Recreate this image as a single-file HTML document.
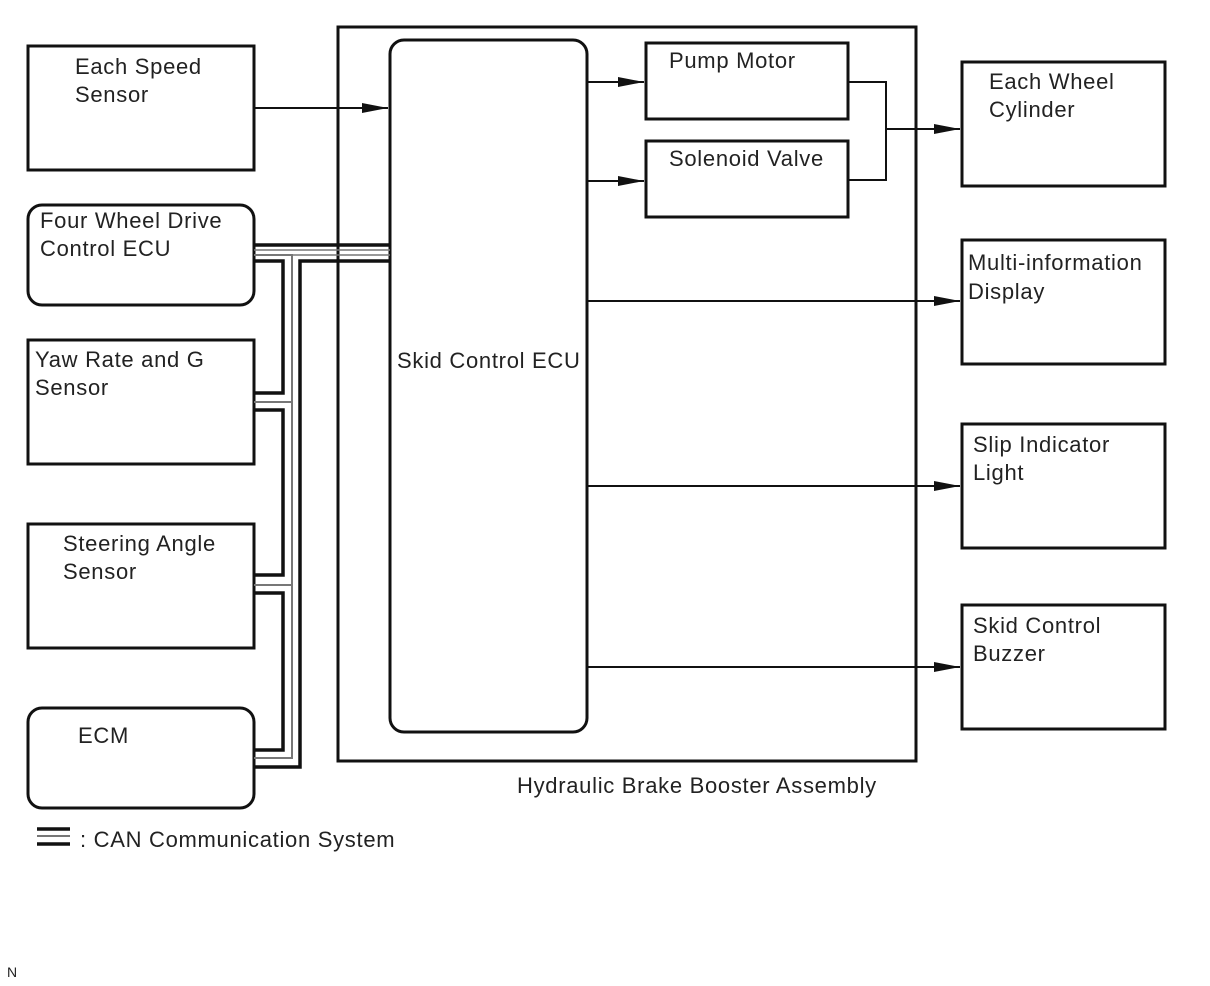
<!DOCTYPE html>
<html><head><meta charset="utf-8"><style>
html,body{margin:0;padding:0;background:#fff;}
svg{display:block;}
text{font-family:"Liberation Sans",sans-serif;font-size:22px;letter-spacing:0.7px;fill:#222;}
</style></head><body>
<svg width="1210" height="986" viewBox="0 0 1210 986" xmlns="http://www.w3.org/2000/svg">
<defs>
<marker id="a" markerWidth="26" markerHeight="12" refX="26" refY="6" orient="auto" markerUnits="userSpaceOnUse">
<path d="M0,1 L26,6 L0,11 Z" fill="#111"/>
</marker>
</defs>
<g fill="none" stroke="#111" stroke-width="3">
<rect x="28" y="46" width="226" height="124"/>
<rect x="28" y="205" width="226" height="100" rx="14"/>
<rect x="28" y="340" width="226" height="124"/>
<rect x="28" y="524" width="226" height="124"/>
<rect x="28" y="708" width="226" height="100" rx="14"/>
<rect x="338" y="27" width="578" height="734"/>
<rect x="390" y="40" width="197" height="692" rx="14"/>
<rect x="646" y="43" width="202" height="76"/>
<rect x="646" y="141" width="202" height="76"/>
<rect x="962" y="62" width="203" height="124"/>
<rect x="962" y="240" width="203" height="124"/>
<rect x="962" y="424" width="203" height="124"/>
<rect x="962" y="605" width="203" height="124"/>
</g>
<g fill="none" stroke="#111" stroke-width="2">
<line x1="254" y1="108" x2="388" y2="108" marker-end="url(#a)"/>
<line x1="587" y1="82" x2="644" y2="82" marker-end="url(#a)"/>
<line x1="587" y1="181" x2="644" y2="181" marker-end="url(#a)"/>
<polyline points="848,82 886,82 886,180 848,180"/>
<line x1="886" y1="129" x2="960" y2="129" marker-end="url(#a)"/>
<line x1="587" y1="301" x2="960" y2="301" marker-end="url(#a)"/>
<line x1="587" y1="486" x2="960" y2="486" marker-end="url(#a)"/>
<line x1="587" y1="667" x2="960" y2="667" marker-end="url(#a)"/>
</g>
<g fill="none" stroke-linejoin="miter">
<line x1="254" y1="245" x2="390" y2="245" stroke="#111" stroke-width="3.5"/>
<line x1="254" y1="250" x2="390" y2="250" stroke="#777" stroke-width="1.5"/>
<line x1="292" y1="255" x2="390" y2="255" stroke="#777" stroke-width="1.5"/>
<polyline points="254,255 292,255 292,758 254,758" stroke="#777" stroke-width="2"/>
<line x1="254" y1="402" x2="292" y2="402" stroke="#777" stroke-width="2"/>
<line x1="254" y1="585" x2="292" y2="585" stroke="#777" stroke-width="2"/>
<polyline points="254,261 283,261 283,393 254,393" stroke="#111" stroke-width="3.5"/>
<polyline points="254,410 283,410 283,575 254,575" stroke="#111" stroke-width="3.5"/>
<polyline points="254,593 283,593 283,750 254,750" stroke="#111" stroke-width="3.5"/>
<polyline points="390,261 300,261 300,767 254,767" stroke="#111" stroke-width="3.5"/>
<line x1="37" y1="829" x2="70" y2="829" stroke="#111" stroke-width="3.5"/>
<line x1="37" y1="836" x2="70" y2="836" stroke="#777" stroke-width="2"/>
<line x1="37" y1="844" x2="70" y2="844" stroke="#111" stroke-width="3.5"/>
</g>
<text x="75" y="74">Each Speed</text>
<text x="75" y="102">Sensor</text>
<text x="40" y="228">Four Wheel Drive</text>
<text x="40" y="256">Control ECU</text>
<text x="35" y="367">Yaw Rate and G</text>
<text x="35" y="395">Sensor</text>
<text x="63" y="551">Steering Angle</text>
<text x="63" y="579">Sensor</text>
<text x="78" y="743">ECM</text>
<text x="397" y="368">Skid Control ECU</text>
<text x="669" y="68">Pump Motor</text>
<text x="669" y="166">Solenoid Valve</text>
<text x="989" y="89">Each Wheel</text>
<text x="989" y="117">Cylinder</text>
<text x="968" y="270">Multi-information</text>
<text x="968" y="299">Display</text>
<text x="973" y="452">Slip Indicator</text>
<text x="973" y="480">Light</text>
<text x="973" y="633">Skid Control</text>
<text x="973" y="661">Buzzer</text>
<text x="517" y="793">Hydraulic Brake Booster Assembly</text>
<text x="80" y="847">: CAN Communication System</text>
<text x="7" y="977" style="font-size:14px;letter-spacing:0">N</text>
</svg>
</body></html>
